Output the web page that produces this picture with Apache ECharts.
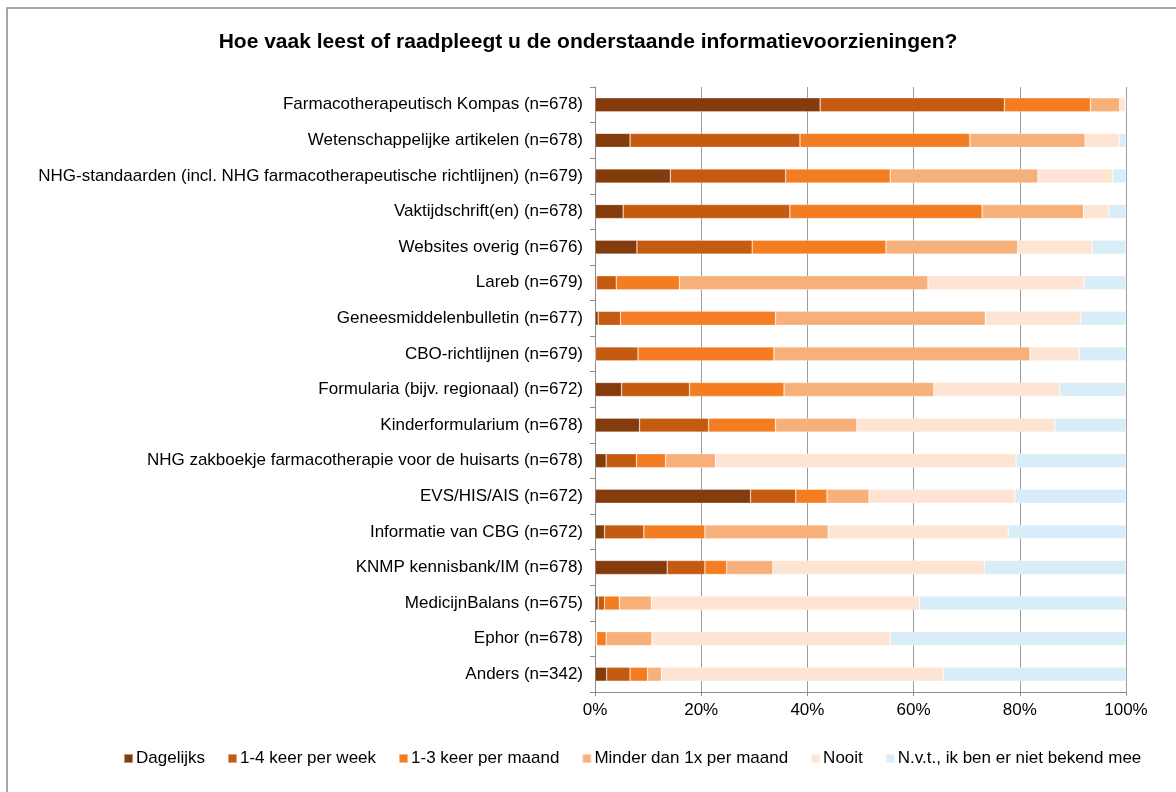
<!DOCTYPE html>
<html>
<head>
<meta charset="utf-8">
<script src="https://cdn.jsdelivr.net/npm/echarts@6/dist/echarts.min.js"></script>
<style>
  html, body { margin: 0; padding: 0; background: #fff; }
  #main { width: 1176px; height: 792px; }
</style>
</head>
<body>
<div id="main"></div>
<script>
// categorieen, van boven naar onder
const categories = [
  'Farmacotherapeutisch Kompas (n=678)',
  'Wetenschappelijke artikelen (n=678)',
  'NHG-standaarden (incl. NHG farmacotherapeutische richtlijnen) (n=679)',
  'Vaktijdschrift(en) (n=678)',
  'Websites overig (n=676)',
  'Lareb (n=679)',
  'Geneesmiddelenbulletin (n=677)',
  'CBO-richtlijnen (n=679)',
  'Formularia (bijv. regionaal) (n=672)',
  'Kinderformularium (n=678)',
  'NHG zakboekje farmacotherapie voor de huisarts (n=678)',
  'EVS/HIS/AIS (n=672)',
  'Informatie van CBG (n=672)',
  'KNMP kennisbank/IM (n=678)',
  'MedicijnBalans (n=675)',
  'Ephor (n=678)',
  'Anders (n=342)'
];

// percentages per antwoord
const dagelijks = [42.4, 6.6, 14.2, 5.3, 7.9, 0.3, 0.6, 0.1, 5.0, 8.4, 2.1, 29.3, 1.8, 13.6, 0.6, 0.2, 2.2];
const perWeek   = [34.7, 32.0, 21.7, 31.4, 21.7, 3.7, 4.2, 8.0, 12.8, 13.0, 5.7, 8.5, 7.4, 7.1, 1.2, 0.1, 4.4];
const perMaand  = [16.2, 32.0, 19.7, 36.2, 25.2, 11.9, 29.2, 25.6, 17.8, 12.6, 5.5, 5.9, 11.5, 4.1, 2.8, 1.8, 3.3];
const minder    = [5.5, 21.7, 27.8, 19.1, 24.8, 46.8, 39.5, 48.2, 28.2, 15.3, 9.4, 7.9, 23.2, 8.7, 6.0, 8.6, 2.6];
const nooit     = [1.1, 6.4, 14.1, 4.8, 14.0, 29.4, 18.0, 9.3, 23.7, 37.3, 56.6, 27.5, 33.9, 39.8, 50.5, 44.9, 53.1];
const nvt       = [0.1, 1.3, 2.5, 3.2, 6.4, 7.9, 8.5, 8.8, 12.5, 13.4, 20.7, 20.9, 22.2, 26.7, 38.9, 44.4, 34.4];

const seriesNames = ['Dagelijks', '1-4 keer per week', '1-3 keer per maand', 'Minder dan 1x per maand', 'Nooit', 'N.v.t., ik ben er niet bekend mee'];
const seriesData = [dagelijks, perWeek, perMaand, minder, nooit, nvt];
const colors = ['#843c0c', '#c55a11', '#f47d22', '#f7b07a', '#fde4d3', '#d8edf8'];

const chart = echarts.init(document.getElementById('main'), null, { renderer: 'canvas' });

const font = 'Liberation Sans, Arial, sans-serif';

var option = {
  animation: false,
  textStyle: { fontFamily: font },
  color: colors,
  title: {
    text: 'Hoe vaak leest of raadpleegt u de onderstaande informatievoorzieningen?',
    left: 'center',
    top: 27,
    textStyle: { fontSize: 21, fontWeight: 'bold', color: '#000', fontFamily: font }
  },
  graphic: [{
    type: 'rect',
    shape: { x: 7, y: 8, width: 1220, height: 820 },
    style: { fill: 'none', stroke: '#8c8c8c', lineWidth: 1.5 },
    silent: true
  }],
  legend: {
    top: 745,
    left: 118,
    itemWidth: 9,
    itemHeight: 9,
    itemGap: 22,
    icon: 'rect',
    textStyle: { fontSize: 17, color: '#000', fontFamily: font, padding: [0, 0, 0, -2] },
    data: seriesNames
  },
  grid: {
    left: 595,
    right: 50,
    top: 87,
    bottom: 100,
    containLabel: false
  },
  xAxis: {
    type: 'value',
    min: 0,
    max: 100,
    interval: 20,
    axisLine: { show: true, lineStyle: { color: '#8c8c8c', width: 1 } },
    axisTick: { show: true, length: 4, lineStyle: { color: '#8c8c8c' } },
    axisLabel: { formatter: '{value}%', fontSize: 17, color: '#000', margin: 10 },
    splitLine: { show: true, lineStyle: { color: '#9c9c9c', width: 1 } }
  },
  yAxis: {
    type: 'category',
    inverse: true,
    data: categories,
    axisLine: { show: true, lineStyle: { color: '#8c8c8c', width: 1 } },
    axisTick: { show: true, length: 5, lineStyle: { color: '#8c8c8c' } },
    axisLabel: { fontSize: 17, color: '#000', margin: 12 }
  },
  series: seriesNames.map(function (name, i) {
    return {
      name: name,
      type: 'bar',
      stack: 'totaal',
      barWidth: 14,
      data: seriesData[i],
      itemStyle: { color: colors[i], borderColor: 'rgba(255,255,255,0.45)', borderWidth: 0.6 }
    };
  })
};

chart.setOption(option);
</script>
</body>
</html>
